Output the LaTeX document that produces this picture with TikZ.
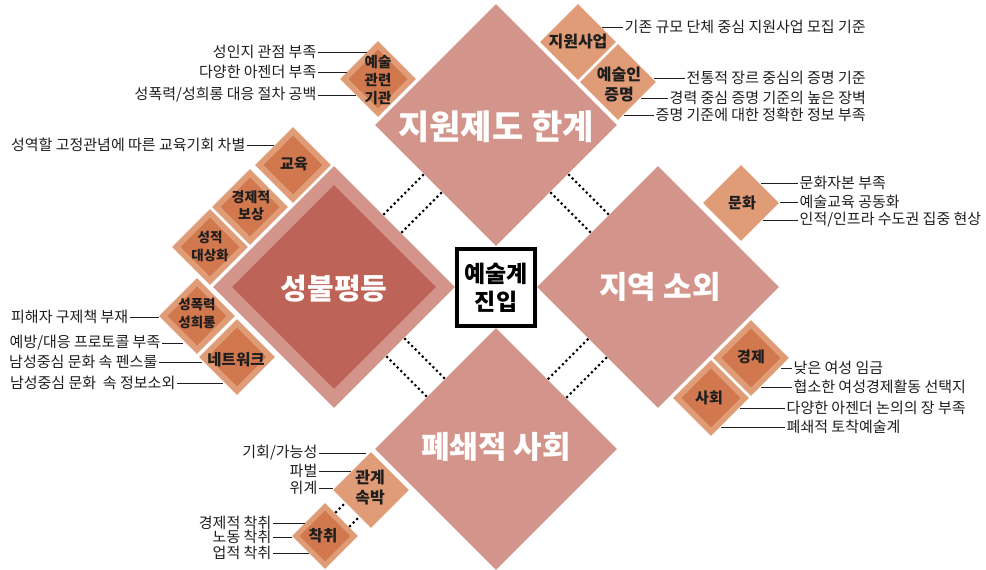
\documentclass[tikz,border=0pt]{standalone}
\usepackage{fontspec}
\setmainfont{Noto Sans CJK KR}
\usetikzlibrary{shapes.geometric}
\definecolor{bigpink}{HTML}{D3958B}
\definecolor{sgred}{HTML}{BE6357}
\definecolor{lightor}{HTML}{E09B77}
\definecolor{darkor}{HTML}{D2784E}
\definecolor{inkc}{HTML}{1E1E1E}
\begin{document}
\begin{tikzpicture}[x=1pt,y=-1pt,
 bigd/.style={diamond, fill=bigpink, inner sep=0pt, minimum width=242pt, minimum height=242pt},
 smd/.style={diamond, fill=lightor, inner sep=0pt, minimum width=76pt, minimum height=76pt},
 ind/.style={diamond, fill=darkor, inner sep=0pt, minimum width=59pt, minimum height=59pt},
 bigt/.style={text=white, inner sep=0pt},
 smt/.style={text=inkc, inner sep=0pt, align=center, font=\fontsize{15pt}{18pt}\selectfont\bfseries},
 lbl/.style={text=inkc, inner sep=1.5pt, font=\fontsize{15pt}{17pt}\selectfont},
 leader/.style={draw=inkc, line width=0.9pt},
 dotline/.style={draw=black, line width=3pt, line cap=round, dash pattern=on 0pt off 5pt},
 ctrbox/.style={draw=black, line width=4pt, fill=white, inner sep=0pt, minimum width=78pt, minimum height=77pt, align=center, font=\fontsize{23pt}{28pt}\selectfont\bfseries}
]
\useasboundingbox (0,0) rectangle (986,570);

% big diamonds
\node[bigd] (T) at (496,125) {};
\node[bigd] (R) at (658,287) {};
\node[bigd] (B) at (496,449) {};
\node[bigd] (L) at (334,287) {};
\node[diamond, fill=sgred, inner sep=0pt, minimum width=204pt, minimum height=204pt] (Li) at (334,287) {};

\node[bigt, font=\fontsize{34pt}{38pt}\selectfont\bfseries] (tT) at (496,127) {지원제도 한계};
\node[bigt, font=\fontsize{29pt}{32pt}\selectfont\bfseries] (tL) at (334,289) {성불평등};
\node[bigt, font=\fontsize{31pt}{34pt}\selectfont\bfseries] (tR) at (660,287) {지역 소외};
\node[bigt, font=\fontsize{31pt}{34pt}\selectfont\bfseries] (tB) at (496,447) {폐쇄적 사회};

% small diamonds
\node[smd] (K) at (378,79) {};
\node[ind] (Ki) at (378,79) {};
\node[smt, font=\fontsize{14.5pt}{18pt}\selectfont\bfseries] (Kt) at (378,80) {예술\\관련\\기관};

\node[smd] (J1) at (578,42) {};
\node[smt, font=\fontsize{16pt}{18pt}\selectfont\bfseries] (J1t) at (578,42) {지원사업};
\node[smd] (J2) at (618,82) {};
\node[smt, font=\fontsize{16pt}{20pt}\selectfont\bfseries] (J2t) at (619,85) {예술인\\증명};

\node[smd] (E1) at (293,165) {};
\node[ind] (E1i) at (293,165) {};
\node[smt] (E1t) at (294,164) {교육};
\node[smd] (E2) at (250,207) {};
\node[ind] (E2i) at (250,207) {};
\node[smt, font=\fontsize{14pt}{17pt}\selectfont\bfseries] (E2t) at (251,206) {경제적\\보상};
\node[smd] (E3) at (210,247) {};
\node[ind] (E3i) at (210,247) {};
\node[smt, font=\fontsize{13.5pt}{18pt}\selectfont\bfseries] (E3t) at (210,246) {성적\\대상화};
\node[smd] (E4) at (197,316) {};
\node[ind] (E4i) at (197,316) {};
\node[smt, font=\fontsize{13.5pt}{18pt}\selectfont\bfseries] (E4t) at (197,313) {성폭력\\성희롱};
\node[smd] (E5) at (237,357) {};
\node[ind] (E5i) at (237,357) {};
\node[smt, font=\fontsize{15.5pt}{18pt}\selectfont\bfseries] (E5t) at (236,360) {네트워크};

\node[smd] (M) at (741,203) {};
\node[smt] (Mt) at (742,203) {문화};

\node[smd] (G1) at (751,358) {};
\node[ind] (G1i) at (751,358) {};
\node[smt] (G1t) at (751,357) {경제};
\node[smd] (G2) at (711,398) {};
\node[ind] (G2i) at (711,398) {};
\node[smt] (G2t) at (709,398) {사회};

\node[smd] (Q1) at (371,490) {};
\node[smt, font=\fontsize{16pt}{20pt}\selectfont\bfseries] (Q1t) at (370,488) {관계\\속박};
\node[smd, minimum width=66pt, minimum height=66pt] (Q2) at (325,536) {};
\node[ind, minimum width=51pt, minimum height=51pt] (Q2i) at (325,536) {};
\node[smt, font=\fontsize{15.5pt}{18pt}\selectfont\bfseries] (Q2t) at (323,536) {착취};

% dotted bridges
\coordinate (u1a) at (384,214); \coordinate (u1b) at (423,175);
\coordinate (u2a) at (402,232); \coordinate (u2b) at (441,193);
\coordinate (v1a) at (569,175); \coordinate (v1b) at (608,214);
\coordinate (v2a) at (551,193); \coordinate (v2b) at (590,232);
\coordinate (w1a) at (405,339); \coordinate (w1b) at (444,378);
\coordinate (w2a) at (387,357); \coordinate (w2b) at (426,396);
\coordinate (z1a) at (587.5,339.5); \coordinate (z1b) at (548.5,378.5);
\coordinate (z2a) at (606,358); \coordinate (z2b) at (567,397);
\coordinate (q1a) at (336,512); \coordinate (q1b) at (344.5,503.5);
\coordinate (q2a) at (350,526); \coordinate (q2b) at (358.5,517.5);
\foreach \p in {u1,u2,v1,v2,w1,w2,z1,z2,q1,q2} {\draw[dotline] (\p a) -- (\p b);}

% centre box
\node[ctrbox] (ctr) at (496,287.5) {예술계\\진입};

% labels, left side (anchored at their right end)
\node[lbl, anchor=east] (a1) at (318,52) {성인지 관점 부족};
\node[lbl, anchor=east] (a2) at (318,72) {다양한 아젠더 부족};
\node[lbl, anchor=east] (a3) at (318,95) {성폭력/성희롱 대응 절차 공백};
\coordinate (a1e) at (367,52); \coordinate (a2e) at (347,72); \coordinate (a3e) at (356,95);

\node[lbl, anchor=east] (b1) at (247,145) {성역할 고정관념에 따른 교육기회 차별};
\coordinate (b1e) at (274,145);

\node[lbl, anchor=east] (c1) at (130,317) {피해자 구제책 부재};
\node[lbl, anchor=east] (c2) at (162,343) {예방/대응 프로토콜 부족};
\node[lbl, anchor=east] (c3) at (159,362) {남성중심 문화 속 펜스룰};
\node[lbl, anchor=east] (c4) at (177,383) {남성중심 문화\ \ 속 정보소외};
\coordinate (c1e) at (159,317); \coordinate (c2e) at (183,343);
\coordinate (c3e) at (202,362); \coordinate (c4e) at (223,383);

\node[lbl, anchor=east] (g1) at (319,453) {기회/가능성};
\node[lbl, anchor=east] (g2) at (319,471) {파벌};
\node[lbl, anchor=east] (g3) at (319,488) {위계};
\coordinate (g1e) at (366,453); \coordinate (g2e) at (351,471); \coordinate (g3e) at (333,488);

\node[lbl, anchor=east] (h1) at (273,523) {경제적 착취};
\node[lbl, anchor=east] (h2) at (273,537) {노동 착취};
\node[lbl, anchor=east] (h3) at (273,553) {업적 착취};
\coordinate (h1e) at (305,523); \coordinate (h2e) at (292,537); \coordinate (h3e) at (309,553);

\foreach \n in {a1,a2,a3,b1,c1,c2,c3,c4,g1,g2,g3,h1,h2,h3} {\draw[leader] (\n.east) -- (\n e);}

% labels, right side (anchored at their left end)
\node[lbl, anchor=west] (d1) at (623,27) {기존 규모 단체 중심 지원사업 모집 기준};
\node[lbl, anchor=west] (d2) at (685,78) {전통적 장르 중심의 증명 기준};
\node[lbl, anchor=west] (d3) at (668,98) {경력 중심 증명 기준의 높은 장벽};
\node[lbl, anchor=west] (d4) at (654,115) {증명 기준에 대한 정확한 정보 부족};
\coordinate (d1e) at (602,27); \coordinate (d2e) at (654,78);
\coordinate (d3e) at (641,98); \coordinate (d4e) at (624,115);

\node[lbl, anchor=west] (e1) at (798,183) {문화자본 부족};
\node[lbl, anchor=west] (e2) at (798,202) {예술교육 공동화};
\node[lbl, anchor=west] (e3) at (798,220) {인적/인프라 수도권 집중 현상};
\coordinate (e1e) at (761,183); \coordinate (e2e) at (780,202); \coordinate (e3e) at (763,220);

\node[lbl, anchor=west] (f1) at (792,368) {낮은 여성 임금};
\node[lbl, anchor=west] (f2) at (792,387) {협소한 여성경제활동 선택지};
\node[lbl, anchor=west] (f3) at (785,408) {다양한 아젠더 논의의 장 부족};
\node[lbl, anchor=west] (f4) at (785,427) {폐쇄적 토착예술계};
\coordinate (f1e) at (781,368); \coordinate (f2e) at (761,387);
\coordinate (f3e) at (740,408); \coordinate (f4e) at (721,427);

\foreach \n in {d1,d2,d3,d4,e1,e2,e3,f1,f2,f3,f4} {\draw[leader] (\n e) -- (\n.west);}
\end{tikzpicture}
\end{document}
